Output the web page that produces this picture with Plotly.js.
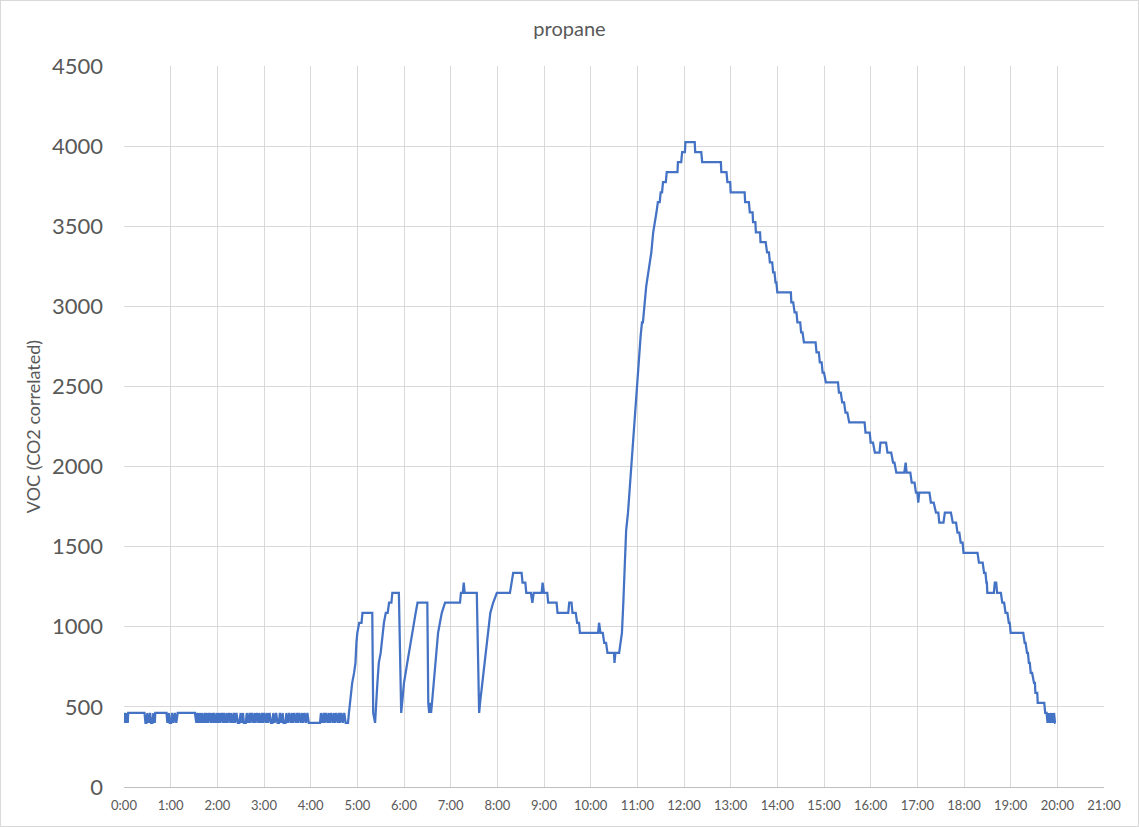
<!DOCTYPE html>
<html>
<head>
<meta charset="utf-8">
<script src="https://cdn.plot.ly/plotly-3.0.1.min.js"></script>
<style>
  html, body { margin: 0; padding: 0; background: #fff; }
  #frame { width: 1139px; height: 827px; box-sizing: border-box; border: 1px solid #d9d9d9; }
  #chart { width: 1137px; height: 825px; }
</style>
</head>
<body>
<div id="frame"><div id="chart"></div></div>
<script>
// [hours since 0:00, VOC value]
const baseline = [
  [0.00,400],[0.02,462],[0.04,400],[0.06,462],[0.08,400],[0.09,462],[0.44,462],[0.46,400],[0.48,400],
  [0.50,462],[0.53,400],[0.56,462],[0.58,400],[0.61,400],[0.63,462],[0.66,400],[0.67,462],[0.91,462],
  [0.93,400],[0.96,462],[0.98,400],[1.01,400],[1.03,462],[1.06,400],[1.09,462],[1.12,400],[1.15,462],
  [1.52,462],[1.55,400],[1.57,462],[1.60,400],[1.62,462],[1.65,400],[1.67,462],[1.70,400],[1.73,462],
  [1.75,400],[1.78,462],[1.80,400],[1.83,462],[1.86,400],[1.88,462],[1.91,400],[1.93,462],[1.96,400],
  [1.99,462],[2.01,400],[2.04,462],[2.06,400],[2.09,462],[2.12,400],[2.14,462],[2.17,400],[2.20,462],
  [2.22,400],[2.25,462],[2.28,400],[2.30,462],[2.33,400],[2.36,462],[2.38,400],[2.41,462],[2.44,400],
  [2.47,400],[2.50,462],[2.52,400],[2.55,462],[2.57,400],[2.61,400],[2.63,462],[2.66,400],[2.69,462],
  [2.71,400],[2.74,462],[2.77,400],[2.80,462],[2.82,400],[2.85,462],[2.88,400],[2.90,462],[2.93,400],
  [2.96,462],[2.98,400],[3.01,462],[3.04,400],[3.07,462],[3.09,400],[3.12,462],[3.15,400],[3.18,400],
  [3.20,462],[3.23,400],[3.26,462],[3.29,400],[3.32,400],[3.34,462],[3.37,400],[3.40,462],[3.42,400],
  [3.46,400],[3.48,462],[3.51,400],[3.54,462],[3.57,400],[3.60,462],[3.62,400],[3.65,462],[3.68,400],
  [3.71,462],[3.73,400],[3.76,462],[3.79,400],[3.82,462],[3.84,400],[3.87,462],[3.90,400],[3.93,462],
  [3.96,400],[4.20,400],[4.22,462],[4.25,400],[4.28,462],[4.30,400],[4.33,462],[4.36,400],[4.39,462],
  [4.41,400],[4.44,462],[4.47,400],[4.50,462],[4.52,400],[4.55,462],[4.58,400],[4.61,462],[4.63,400],
  [4.66,462],[4.69,400],[4.72,462],[4.75,400],[4.80,400],[4.82,462]
];
const cycles = [
  [4.84,525],[4.86,587],[4.89,650],[4.93,712],[4.96,775],[4.98,900],[5.00,962],[5.04,1025],[5.09,1025],
  [5.11,1087],[5.32,1087],[5.34,462],[5.38,400],[5.43,650],[5.46,775],[5.50,837],[5.54,962],[5.57,1025],
  [5.61,1087],[5.65,1087],[5.68,1150],[5.73,1150],[5.75,1212],[5.89,1212],[5.94,462],[6.00,650],
  [6.07,775],[6.14,900],[6.20,1025],[6.25,1087],[6.29,1150],[6.50,1150],[6.52,525],[6.54,462],[6.56,525],
  [6.58,462],[6.60,525],[6.64,650],[6.68,775],[6.73,962],[6.77,1025],[6.81,1087],[6.88,1150],[7.20,1150],
  [7.22,1212],[7.26,1212],[7.28,1275],[7.30,1212],[7.56,1212],[7.61,462],[7.63,525],[7.70,712],[7.75,837],
  [7.80,962],[7.85,1087],[7.91,1150],[7.99,1212],[8.27,1212],[8.31,1275],[8.34,1337],[8.52,1337],
  [8.54,1275],[8.60,1275],[8.62,1212],[8.72,1212],[8.75,1150],[8.78,1212],[8.95,1212],[8.97,1275],
  [9.00,1212],[9.07,1212],[9.09,1150],[9.27,1150],[9.29,1087],[9.52,1087],[9.54,1150],[9.59,1150],
  [9.61,1087],[9.68,1087],[9.71,1025],[9.75,1025],[9.77,962],[10.16,962],[10.18,1025],[10.21,962],
  [10.26,962],[10.29,900],[10.33,900],[10.36,837],[10.50,837],[10.51,775],[10.53,837],[10.61,837],
  [10.64,900],[10.67,962]
];
const peak = [
  [10.70,1150],[10.73,1400],[10.76,1600],[10.80,1712],[10.84,1875],[10.89,2087],[10.94,2337],[11.01,2587],
  [11.07,2812],[11.10,2900],[11.12,2900],[11.19,3125],[11.24,3212],[11.26,3275],[11.30,3337],[11.34,3462],
  [11.38,3525],[11.41,3587],[11.44,3650],[11.48,3650],[11.50,3712],[11.53,3712],[11.55,3775],[11.61,3775],
  [11.63,3837],[11.86,3837],[11.87,3900],[11.94,3900],[11.96,3962],[12.02,3962],[12.03,4025],[12.23,4025]
];
const decay = [
  [12.24,3962],[12.37,3962],[12.39,3900],[12.79,3900],[12.80,3837],[12.91,3837],[12.93,3775],[12.99,3775],
  [13.00,3712],[13.30,3712],[13.31,3650],[13.39,3650],[13.41,3587],[13.47,3587],[13.48,3525],[13.53,3525],
  [13.54,3462],[13.63,3462],[13.64,3400],[13.75,3400],[13.78,3337],[13.82,3337],[13.84,3275],[13.89,3275],
  [13.91,3212],[13.94,3212],[13.96,3150],[13.98,3150],[14.00,3087],[14.29,3087],[14.30,3025],[14.34,3025],
  [14.37,2962],[14.41,2962],[14.43,2900],[14.49,2900],[14.51,2837],[14.54,2837],[14.57,2775],[14.82,2775],
  [14.84,2712],[14.89,2712],[14.91,2650],[14.95,2650],[14.97,2587],[15.00,2587],[15.04,2525],[15.30,2525],
  [15.32,2462],[15.36,2462],[15.39,2400],[15.43,2400],[15.46,2337],[15.50,2337],[15.54,2275],[15.87,2275],
  [15.89,2212],[15.98,2212],[16.00,2150],[16.05,2150],[16.09,2087],[16.19,2087],[16.21,2150],[16.33,2150],
  [16.36,2087],[16.44,2087],[16.48,2025],[16.51,2025],[16.55,1962],[16.72,1962],[16.75,2025],[16.77,1962],
  [16.85,1962],[16.88,1900],[16.94,1900],[16.97,1837],[17.00,1837],[17.02,1775],[17.04,1837],[17.26,1837],
  [17.29,1775],[17.35,1775],[17.40,1712],[17.45,1712],[17.47,1650],[17.56,1650],[17.59,1712],[17.72,1712],
  [17.76,1650],[17.83,1650],[17.86,1587],[17.90,1587],[17.93,1525],[17.97,1525],[17.99,1462],[18.29,1462],
  [18.32,1400],[18.40,1400],[18.43,1337],[18.46,1337],[18.48,1275],[18.49,1275],[18.50,1212],[18.64,1212],
  [18.66,1275],[18.69,1275],[18.71,1212],[18.79,1212],[18.82,1150],[18.86,1150],[18.89,1087],[18.93,1087],
  [18.96,1025],[18.98,1025],[19.00,962],[19.27,962],[19.30,900],[19.32,900],[19.35,837],[19.37,837],
  [19.39,775],[19.41,775],[19.43,712],[19.46,712],[19.50,650],[19.52,650],[19.53,587],[19.57,587],
  [19.58,525],[19.72,525],[19.74,462],[19.77,462],[19.79,400],[19.81,462],[19.83,400],[19.85,462],
  [19.87,400],[19.89,462],[19.91,400],[19.93,462],[19.95,400],[19.96,400]
];
const tickHours = [0,1,2,3,4,5,6,7,8,9,10,11,12,13,14,15,16,17,18,19,20,21];
const tickLabels = ["0:00","1:00","2:00","3:00","4:00","5:00","6:00","7:00","8:00","9:00","10:00",
  "11:00","12:00","13:00","14:00","15:00","16:00","17:00","18:00","19:00","20:00","21:00"];
const yTicks = [0,500,1000,1500,2000,2500,3000,3500,4000,4500];

const all = baseline.concat(cycles, peak, decay);
const xs = all.map(p => p[0]);
const ys = all.map(p => p[1]);

const txt = '#595959';
const fontFam = 'Lato, "Open Sans", sans-serif';

Plotly.newPlot('chart', [{
  x: xs, y: ys, type: 'scatter', mode: 'lines',
  line: { color: '#4472C4', width: 2.25 },
  hoverinfo: 'skip'
}], {
  width: 1137, height: 825,
  margin: { l: 123, r: 34, t: 65, b: 39 },
  paper_bgcolor: '#fff', plot_bgcolor: '#fff',
  showlegend: false,
  font: { family: fontFam, color: txt },
  title: { text: 'propane', font: { family: fontFam, size: 20, color: txt }, x: 0.5, xanchor: 'center', y: 0.966, yanchor: 'middle' },
  xaxis: {
    range: [0, 21], tickmode: 'array', tickvals: tickHours, ticktext: tickLabels,
    showgrid: true, gridcolor: '#d9d9d9', gridwidth: 1,
    showline: true, linecolor: '#bfbfbf', linewidth: 1,
    zeroline: false, ticks: '', ticklabelstandoff: 6,
    tickfont: { family: fontFam, size: 13, color: txt }
  },
  yaxis: {
    range: [0, 4500], tickmode: 'array', tickvals: yTicks,
    showgrid: true, gridcolor: '#d9d9d9', gridwidth: 1,
    zeroline: false, showline: false, ticks: '', ticklabelstandoff: 20,
    tickfont: { family: fontFam, size: 22, color: txt },
    title: { text: 'VOC (CO2 correlated)', font: { family: fontFam, size: 18, color: txt }, standoff: 6 }
  }
}, { displayModeBar: false, staticPlot: true });
</script>
</body>
</html>
